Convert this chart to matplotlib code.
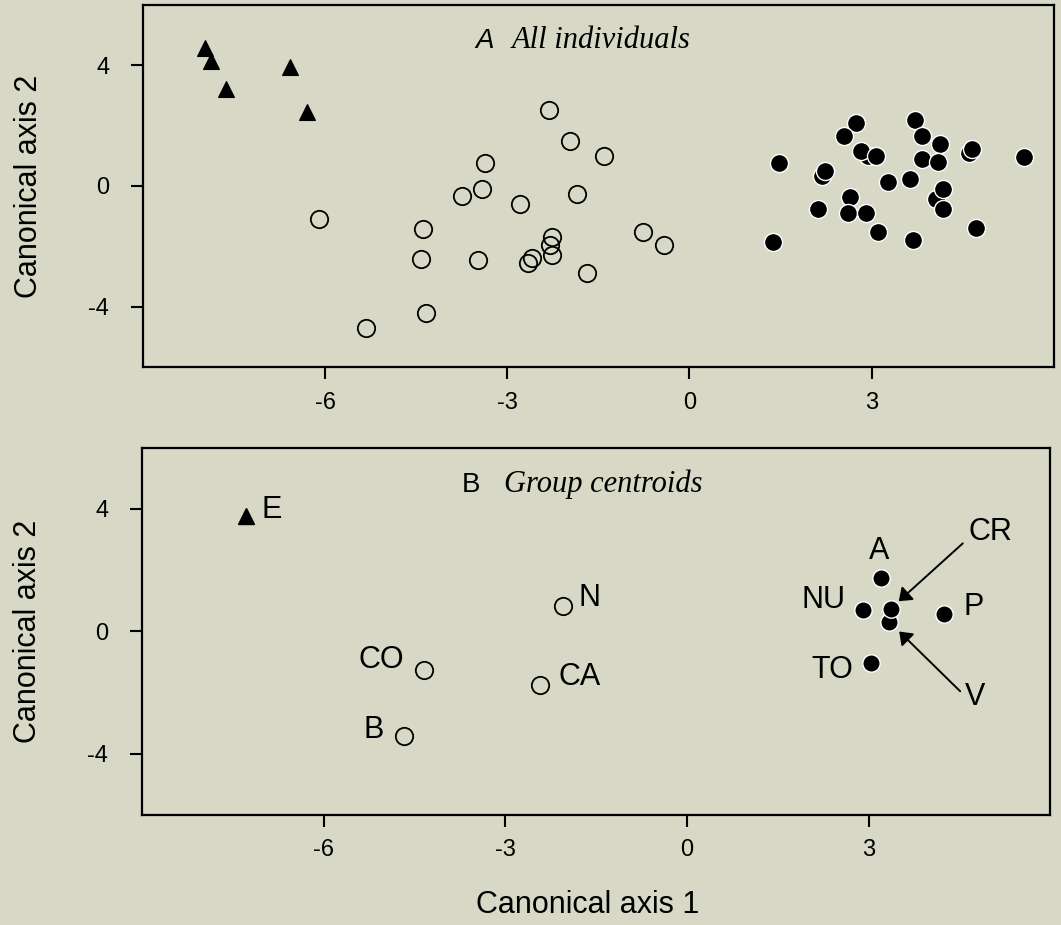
import matplotlib
matplotlib.use("Agg")
import matplotlib.pyplot as plt

# Panel A: all individuals
tri_x = [-7.99, -7.88, -7.63, -6.58, -6.30]
tri_y = [4.57, 4.14, 3.20, 3.94, 2.43]

open_x = [-6.11, -5.33, -4.39, -4.43, -4.34, -3.74, -3.42, -3.37, -3.48, -2.79,
          -2.31, -1.97, -1.41, -1.86, -2.26, -2.30, -2.26, -2.59, -2.66, -1.69,
          -0.76, -0.42]
open_y = [-1.10, -4.69, -1.43, -2.42, -4.19, -0.33, -0.10, 0.76, -2.44, -0.59,
          2.51, 1.50, 1.00, -0.27, -1.69, -1.97, -2.30, -2.38, -2.54, -2.88,
          -1.54, -1.97]

fill_x = [2.18, 2.94, 4.06, 4.60, 1.48, 1.38, 2.24, 2.12, 2.74, 2.55, 2.83,
          3.07, 2.65, 2.61, 2.91, 3.10, 3.27, 3.64, 3.72, 3.84, 4.13, 3.84,
          4.09, 4.17, 4.17, 3.68, 4.65, 4.73, 5.52]
fill_y = [0.33, 0.98, -0.43, 1.09, 0.76, -1.86, 0.48, -0.78, 2.07, 1.64, 1.14,
          0.98, -0.36, -0.88, -0.88, -1.54, 0.14, 0.22, 2.17, 1.64, 1.40, 0.89,
          0.80, -0.11, -0.78, -1.80, 1.23, -1.39, 0.97]

# Panel B: group centroids
cent_tri = ["E"]
cent_tri_x = [-7.28]
cent_tri_y = [3.77]

cent_open = ["CO", "B", "N", "CA"]
cent_open_x = [-4.35, -4.67, -2.05, -2.43]
cent_open_y = [-1.26, -3.41, 0.83, -1.77]

cent_fill = ["V", "A", "NU", "CR", "P", "TO"]
cent_fill_x = [3.34, 3.20, 2.91, 3.36, 4.25, 3.04]
cent_fill_y = [0.31, 1.73, 0.71, 0.74, 0.58, -1.04]

# label offsets (points) and alignment
label_pos = {
    "E": (11, 4, "left"), "CO": (-14, 7, "right"), "B": (-15, 4, "right"),
    "N": (11, 6, "left"), "CA": (13, 6, "left"), "A": (-1, 20, "center"),
    "NU": (-13, 7, "right"), "P": (14, 5, "left"), "TO": (-13, -5, "right"),
}
arrow_lab = {"CR": ((72, 55), (52, 47), 8), "V": ((62, -54), (51, -50), 10)}

bg = "#d8d8c6"
sans = "Liberation Sans"
serif = "Liberation Serif"
plt.rcParams["font.family"] = sans
plt.rcParams["axes.unicode_minus"] = False

fig = plt.figure(figsize=(10.61, 9.25), dpi=100, facecolor=bg)
axA = fig.add_axes([0.135, 0.603, 0.858, 0.392])
axB = fig.add_axes([0.134, 0.119, 0.856, 0.397])

for ax in (axA, axB):
    ax.set_facecolor(bg)
    ax.set_xlim(-9, 6)
    ax.set_ylim(-6, 6)
    ax.set_xticks([-6, -3, 0, 3])
    ax.set_yticks([4, 0, -4])
    for s in ax.spines.values():
        s.set_linewidth(1.6)
    ax.tick_params(direction="out", length=8.5, width=1.5, labelsize=17)
    ax.tick_params(axis="y", pad=16)
    ax.tick_params(axis="x", pad=9)
    ax.set_ylabel("Canonical axis 2", fontsize=22, va="center")
    ax.yaxis.set_label_coords(-0.126, 0.5)

# panel A
axA.plot(tri_x, tri_y, "^", color="black", ms=12, mew=0.8, ls="none")
axA.plot(open_x, open_y, "o", mfc="none", mec="black", ms=12.5, mew=1.3, ls="none")
axA.plot(fill_x, fill_y, "o", mfc="black", mec="white", ms=13, mew=1.0, ls="none")
axA.text(0.365, 0.881, "A", transform=axA.transAxes, fontsize=20,
         style="italic", va="baseline")
axA.text(0.405, 0.881, "All individuals", transform=axA.transAxes,
         fontsize=22, style="italic", family=serif, va="baseline")

# panel B
axB.plot(cent_tri_x, cent_tri_y, "^", color="black", ms=11.5, ls="none")
axB.plot(cent_open_x, cent_open_y, "o", mfc="none", mec="black", ms=12.5,
         mew=1.3, ls="none")
axB.plot(cent_fill_x, cent_fill_y, "o", mfc="black", mec="white", ms=12.5,
         mew=1.0, ls="none")

names = cent_tri + cent_open + cent_fill
xs = cent_tri_x + cent_open_x + cent_fill_x
ys = cent_tri_y + cent_open_y + cent_fill_y
for n, x, y in zip(names, xs, ys):
    if n in label_pos:
        dx, dy, ha = label_pos[n]
        axB.annotate(n, (x, y), xytext=(dx, dy), textcoords="offset points",
                     ha=ha, va="center", fontsize=22)
    elif n in arrow_lab:
        (tx, ty), (ax0, ay0), shr = arrow_lab[n]
        axB.annotate(n, (x, y), xytext=(tx, ty), textcoords="offset points",
                     ha="center", va="center", fontsize=22)
        axB.annotate("", (x, y), xytext=(ax0, ay0), textcoords="offset points",
                     arrowprops=dict(arrowstyle="-|>,head_width=0.3", color="black",
                                     lw=1.4, mutation_scale=18, shrinkA=0,
                                     shrinkB=shr))

axB.text(0.352, 0.880, "B", transform=axB.transAxes, fontsize=20, va="baseline")
axB.text(0.398, 0.880, "Group centroids", transform=axB.transAxes,
         fontsize=22, style="italic", family=serif, va="baseline")
axB.set_xlabel("Canonical axis 1", fontsize=22, va="center")
axB.xaxis.set_label_coords(0.49, -0.245)

fig.savefig("out.png", dpi=100, facecolor=bg)
